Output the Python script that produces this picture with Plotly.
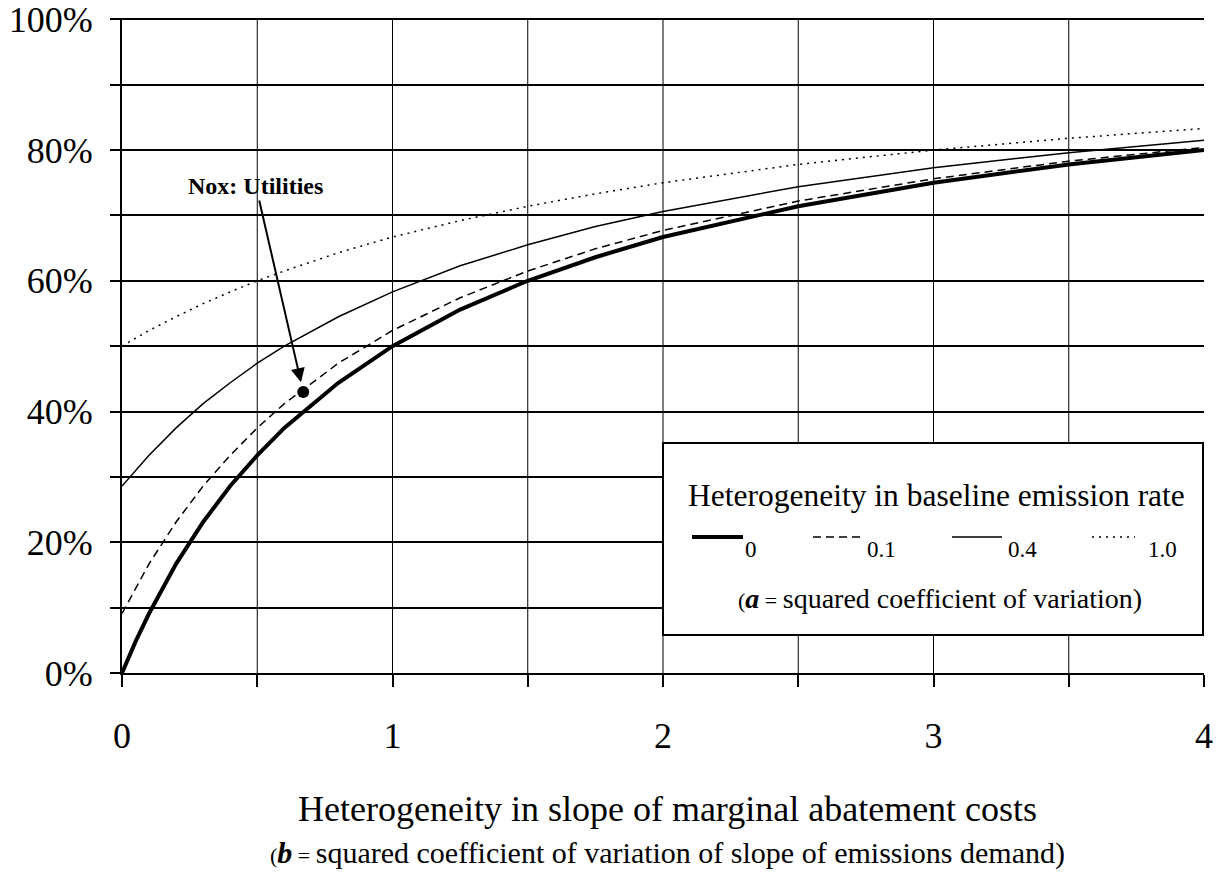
import plotly.graph_objects as go

# ---- data ----
b_vals = [0, 0.05, 0.1, 0.2, 0.3, 0.4, 0.5, 0.6, 0.8, 1.0, 1.25, 1.5, 1.75, 2.0, 2.5, 3.0, 3.5, 4.0]
share_a0 = [0.0, 4.8, 9.1, 16.7, 23.1, 28.6, 33.3, 37.5, 44.4, 50.0, 55.6, 60.0, 63.6, 66.7, 71.4, 75.0, 77.8, 80.0]
share_a01 = [9.1, 13.0, 16.7, 23.1, 28.6, 33.3, 37.5, 41.2, 47.4, 52.4, 57.4, 61.5, 64.9, 67.7, 72.2, 75.6, 78.3, 80.4]
share_a04 = [28.6, 31.0, 33.3, 37.5, 41.2, 44.4, 47.4, 50.0, 54.5, 58.3, 62.3, 65.5, 68.3, 70.6, 74.4, 77.3, 79.6, 81.5]
share_a10 = [50.0, 51.2, 52.4, 54.5, 56.5, 58.3, 60.0, 61.5, 64.3, 66.7, 69.2, 71.4, 73.3, 75.0, 77.8, 80.0, 81.8, 83.3]

point_label = "Nox: Utilities"
point_b = [0.67]
point_share = [43.0]

x_tickvals = [0, 0.5, 1, 1.5, 2, 2.5, 3, 3.5, 4]
x_ticktext = ["0", "", "1", "", "2", "", "3", "", "4"]
x_grid = [0.5, 1, 1.5, 2, 2.5, 3, 3.5]
y_tickvals = [0, 10, 20, 30, 40, 50, 60, 70, 80, 90, 100]
y_ticktext = ["0%", "", "20%", "", "40%", "", "60%", "", "80%", "", "100%"]

legend_labels = ["0", "0.1", "0.4", "1.0"]

FONT = "Liberation Serif, Times New Roman, serif"

fig = go.Figure()

styles = [
    dict(width=4, dash="solid"),
    dict(width=1.5, dash="8px,5px"),
    dict(width=1.5, dash="solid"),
    dict(width=1.5, dash="2px,5px"),
]
series = [share_a0, share_a01, share_a04, share_a10]
for lab, ys, st in zip(legend_labels, series, styles):
    fig.add_trace(go.Scatter(x=b_vals, y=ys, mode="lines", name=lab,
                             line=dict(color="black", width=st["width"], dash=st["dash"]),
                             showlegend=False, hoverinfo="skip"))

fig.add_trace(go.Scatter(x=point_b, y=point_share, mode="markers",
                         marker=dict(color="black", size=12), showlegend=False, hoverinfo="skip"))

shapes = []
for gx in x_grid:
    shapes.append(dict(type="line", xref="x", yref="paper", x0=gx, x1=gx, y0=0, y1=1,
                       line=dict(color="black", width=1), layer="below"))

# legend box (paper coords)
def px_x(p):
    return (p - 122) / 1082.0

def px_y(p):
    return (673 - p) / 655.0

shapes.append(dict(type="rect", xref="paper", yref="paper",
                   x0=px_x(663), x1=px_x(1203), y0=px_y(635), y1=px_y(443),
                   line=dict(color="black", width=2), fillcolor="white", layer="above"))

seg_x = [(692, 743), (813, 862), (952, 1002), (1092, 1135)]
for (x0, x1), st in zip(seg_x, styles):
    shapes.append(dict(type="line", xref="paper", yref="paper",
                       x0=px_x(x0), x1=px_x(x1), y0=px_y(537), y1=px_y(537),
                       line=dict(color="black", width=st["width"], dash=st["dash"]), layer="above"))

annotations = []
annotations.append(dict(xref="paper", yref="paper", x=px_x(936), y=px_y(495),
                        text="Heterogeneity in baseline emission rate", showarrow=False,
                        font=dict(family=FONT, size=31.5, color="black"), xanchor="center", yanchor="middle"))
label_x = [751, 881, 1022, 1162]
for lab, lx in zip(legend_labels, label_x):
    annotations.append(dict(xref="paper", yref="paper", x=px_x(lx), y=px_y(549),
                            text=lab, showarrow=False,
                            font=dict(family=FONT, size=23, color="black"), xanchor="center", yanchor="middle"))
annotations.append(dict(xref="paper", yref="paper", x=px_x(940), y=px_y(598),
                        text="<span style='font-size:22px'>(</span><b><i>a</i></b>"
                             "<span style='font-size:22px'> = </span>squared coefficient of variation)",
                        showarrow=False,
                        font=dict(family=FONT, size=28, color="black"), xanchor="center", yanchor="middle"))

# point annotation with arrow
annotations.append(dict(x=point_b[0], y=point_share[0], xref="x", yref="y",
                        ax=0.495, ay=74.5, axref="x", ayref="y",
                        text="<b>" + point_label + "</b>", showarrow=True,
                        arrowhead=2, arrowsize=1.4, arrowwidth=2, arrowcolor="black", standoff=10,
                        font=dict(family=FONT, size=24, color="black")))

# x axis titles
annotations.append(dict(xref="paper", yref="paper", x=px_x(667), y=px_y(809),
                        text="Heterogeneity in slope of marginal abatement costs", showarrow=False,
                        font=dict(family=FONT, size=36, color="black"), xanchor="center", yanchor="middle"))
annotations.append(dict(xref="paper", yref="paper", x=px_x(667), y=px_y(853),
                        text="<span style='font-size:22px'>(</span><b><i>b</i></b>"
                             "<span style='font-size:22px'> = </span>squared coefficient of variation of slope of emissions demand)",
                        showarrow=False,
                        font=dict(family=FONT, size=30, color="black"), xanchor="center", yanchor="middle"))

fig.update_layout(
    width=1221, height=876,
    margin=dict(l=122, r=17, t=18, b=203, autoexpand=False),
    paper_bgcolor="white", plot_bgcolor="white",
    font=dict(family=FONT, color="black"),
    shapes=shapes, annotations=annotations,
    xaxis=dict(range=[0, 4], tickvals=x_tickvals, ticktext=x_ticktext,
               ticks="outside", ticklen=12, tickwidth=2, tickcolor="black",
               showline=True, linewidth=2, linecolor="black",
               showgrid=False, zeroline=False, automargin=False,
               ticklabeloverflow="allow",
               tickfont=dict(family=FONT, size=36, color="black"),
               ticklabelstandoff=18),
    yaxis=dict(range=[0, 100.2], tickvals=y_tickvals, ticktext=y_ticktext,
               ticks="outside", ticklen=10, tickwidth=2, tickcolor="black",
               showline=True, linewidth=2, linecolor="black",
               showgrid=True, gridcolor="black", gridwidth=2, zeroline=False,
               automargin=False, ticklabeloverflow="allow",
               tickfont=dict(family=FONT, size=36, color="black"),
               ticklabelstandoff=10),
)

fig.write_html("out.html", config={"displayModeBar": False},
               post_script="document.body.style.margin='0';")
